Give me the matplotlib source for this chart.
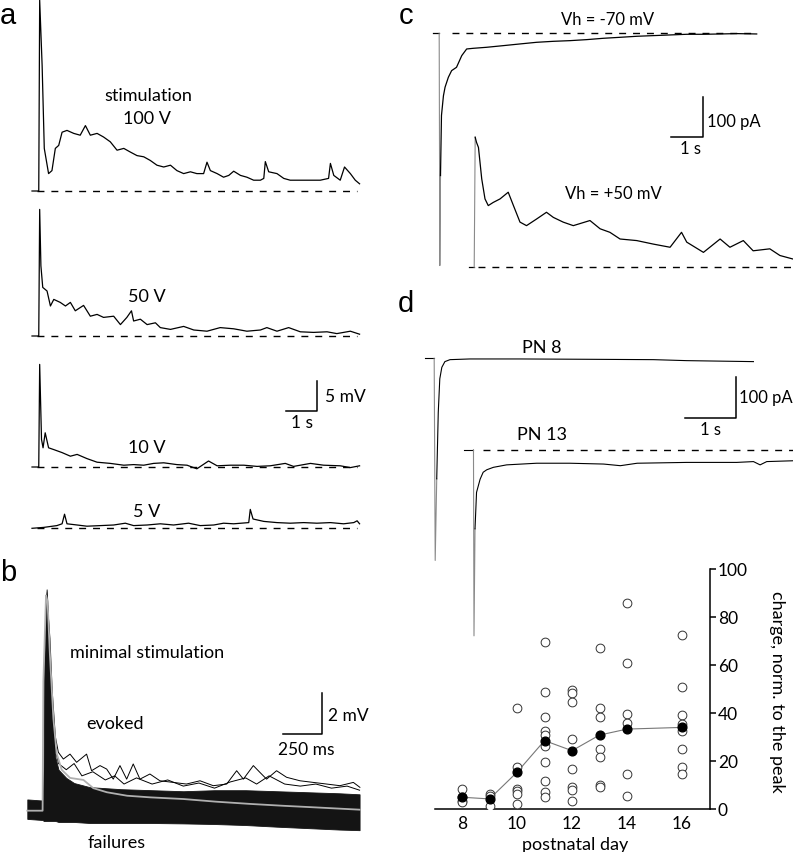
import matplotlib
matplotlib.use("Agg")
import matplotlib.pyplot as plt

W, H = 793, 853
plt.rcParams['font.family'] = ['Lato', 'DejaVu Sans']
plt.rcParams['lines.scale_dashes'] = False

# ===== PANEL A: responses to field stimulation (s, mV) =====
a100_t = [0, 0.22, 0.25, 0.33, 0.40, 0.54, 0.65, 0.76, 0.87, 0.98, 1.14, 1.36, 1.57, 1.74, 1.90,
          2.12, 2.33, 2.55, 2.77, 2.99, 3.20, 3.42, 3.64, 3.85, 4.07, 4.29, 4.51, 4.72, 4.94,
          5.16, 5.37, 5.59, 5.70, 5.81, 6.03, 6.24, 6.41, 6.57, 6.79, 7.00, 7.22, 7.44, 7.55,
          7.60, 7.71, 7.98, 8.20, 8.41, 8.74, 9.07, 9.39, 9.66, 9.72, 9.83, 10.04, 10.18,
          10.37, 10.53, 10.67]
a100_mv = [0, 0, 31.8, 20.9, 7.1, 2.9, 3.4, 7.1, 7.6, 9.8, 10.1, 9.6, 9.3, 10.9, 9.3,
           9.6, 9.0, 8.2, 6.8, 7.1, 6.5, 5.9, 5.7, 5.1, 4.3, 4.0, 4.3, 3.4, 2.9,
           3.2, 2.9, 2.9, 4.8, 3.4, 2.9, 2.3, 2.6, 3.3, 2.6, 2.3, 1.8, 1.8, 2.1,
           4.9, 3.2, 2.9, 2.1, 1.8, 1.8, 1.8, 1.8, 2.1, 4.6, 2.6, 1.8, 4.0,
           2.9, 1.8, 1.2]

a50_t = [0, 0.22, 0.25, 0.29, 0.35, 0.49, 0.60, 0.71, 0.92, 1.09, 1.25, 1.41, 1.68, 1.90,
         2.12, 2.33, 2.66, 2.88, 3.09, 3.24, 3.31, 3.53, 3.75, 4.02, 4.18, 4.51, 4.94, 5.27,
         5.70, 6.13, 6.57, 7.00, 7.44, 7.65, 7.98, 8.36, 8.74, 9.17, 9.61, 9.93, 10.37, 10.67]
a50_mv = [0, 0, 21.1, 11.7, 8.1, 7.5, 5.0, 6.1, 5.6, 5.0, 5.6, 4.2, 5.1, 3.3,
          3.6, 3.1, 3.3, 1.9, 3.1, 4.2, 2.5, 2.8, 1.9, 2.2, 1.4, 1.1, 1.6, 1.0,
          0.8, 1.4, 1.2, 0.8, 1.0, 1.4, 0.8, 1.4, 0.7, 0.6, 0.7, 0.4, 0.8, 0.3]

a10_t = [0, 0.22, 0.25, 0.31, 0.36, 0.43, 0.54, 0.71, 0.98, 1.25, 1.47, 1.79, 2.12, 2.55,
         2.99, 3.31, 3.64, 3.96, 4.29, 4.72, 5.05, 5.37, 5.75, 6.03, 6.46, 6.90, 7.33, 7.76,
         8.25, 8.52, 9.07, 9.50, 10.04, 10.37, 10.67]
a10_mv = [0, 0, 17.1, 4.6, 3.2, 5.7, 3.2, 2.9, 2.4, 1.8, 2.1, 1.4, 0.8, 0.6,
          0.3, 0.4, 0.3, 0.6, 0.7, 0.4, 0.3, -0.3, 1.0, 0.2, 0.3, 0.3, 0.1, 0.2,
          0.6, 0.1, 0.6, 0.3, 0.2, -0.1, 0.2]

a5_t = [0, 0.38, 0.81, 0.98, 1.06, 1.14, 1.47, 1.79, 2.23, 2.66, 3.04, 3.31, 3.75, 4.18,
        4.61, 5.10, 5.48, 5.92, 6.24, 6.57, 7.06, 7.11, 7.20, 7.55, 7.98, 8.41, 8.85, 9.28,
        9.72, 10.15, 10.48, 10.59, 10.67]
a5_mv = [-0.05, 0.1, 0.4, 0.7, 2.3, 0.7, 0.5, 0.3, 0.4, 0.5, 0.8, 0.4, 0.5, 0.7,
         0.5, 0.8, 0.4, 0.5, 0.8, 0.7, 0.9, 3.1, 1.5, 1.1, 0.9, 0.8, 0.9, 0.8,
         0.9, 0.7, 0.9, 1.2, 0.7]

a_labels = ["100 V", "50 V", "10 V", "5 V"]

# ===== PANEL B: minimal stimulation, overlaid sweeps (s, mV) =====
# dense part of the sweep cloud (envelope)
b_t = [0.0, 0.09, 0.1, 0.104, 0.108, 0.118, 0.124, 0.13, 0.14, 0.15, 0.16, 0.17, 0.18, 0.2,
       0.25, 0.3, 0.4, 0.5, 0.6, 0.8, 1.0, 1.2, 1.4, 1.6, 1.8, 2.0, 2.13]
b_upper = [0.55, 0.5, 0.55, 2.0, 7.0, 10.2, 10.8, 10.0, 8.0, 6.5, 5.0, 3.6, 2.6, 2.0,
           1.6, 1.35, 1.15, 1.1, 1.05, 1.0, 0.95, 1.0, 1.0, 0.95, 0.9, 0.85, 0.8]
b_lower = [-0.4, -0.45, -0.45, -0.5, -0.5, -0.5, -0.5, -0.5, -0.5, -0.5, -0.5, -0.5, -0.5, -0.55,
           -0.55, -0.55, -0.6, -0.6, -0.6, -0.6, -0.62, -0.65, -0.7, -0.78, -0.85, -0.92, -0.95]
# grey average of evoked responses
b_mean_t = [0, 0.098, 0.103, 0.12, 0.13, 0.145, 0.167, 0.188, 0.22, 0.274, 0.36, 0.423, 0.51,
            0.64, 0.79, 1.0, 1.21, 1.43, 1.64, 1.85, 2.13]
b_mean = [0, 0, 6.3, 10.5, 10.2, 7.6, 4.5, 2.8, 2.0, 1.6, 1.5, 1.1, 0.9,
          0.73, 0.65, 0.57, 0.44, 0.33, 0.24, 0.16, 0.05]
# two of the larger evoked sweeps
b_top_t = [0.13, 0.145, 0.16, 0.18, 0.199, 0.231, 0.274, 0.316, 0.38, 0.412, 0.466, 0.509, 0.551,
           0.594, 0.637, 0.679, 0.722, 0.786, 0.85, 0.936, 1.02, 1.107, 1.192, 1.278, 1.342,
           1.385, 1.449, 1.491, 1.534, 1.598, 1.662, 1.748, 1.833, 1.919, 2.004, 2.09, 2.132]
b_top = [10.0, 8.4, 5.8, 3.6, 2.85, 2.52, 2.76, 2.36, 2.76, 1.95, 2.2, 2.03, 1.54,
         2.2, 1.54, 2.28, 1.54, 1.79, 1.46, 1.38, 1.3, 1.46, 1.22, 1.3, 1.95,
         1.54, 2.2, 1.87, 1.54, 1.95, 1.63, 1.46, 1.38, 1.3, 1.22, 1.38, 1.14]
b_mid_t = [0.13, 0.145, 0.16, 0.18, 0.2, 0.25, 0.3, 0.35, 0.42, 0.5, 0.56, 0.62, 0.7, 0.8, 0.9,
           1.0, 1.1, 1.2, 1.3, 1.4, 1.47, 1.55, 1.65, 1.75, 1.85, 1.95, 2.05, 2.13]
b_mid = [9.6, 7.6, 4.8, 3.0, 2.3, 2.0, 2.3, 1.7, 1.9, 1.5, 1.7, 1.3, 1.6, 1.3, 1.5,
         1.2, 1.35, 1.1, 1.4, 1.6, 1.3, 1.7, 1.3, 1.2, 1.3, 1.1, 1.2, 1.0]

# ===== PANEL C: currents at two holding potentials (s, pA) =====
c70_t = [0, 0.18, 0.2, 0.22, 0.25, 0.31, 0.36, 0.46, 0.56, 0.71, 0.87, 1.02, 1.22, 1.63, 2.14,
         2.65, 3.16, 3.67, 4.18, 4.69, 5.2, 5.71, 6.22, 6.73, 7.24, 7.75, 8.26, 8.77, 9.28, 9.89]
c70_pa = [0, 0, -591, -362, -209, -159, -137, -112, -95, -86.5, -56.8, -39.9, -38.2, -35.6, -31.4,
          -27.1, -22.9, -20.4, -18.7, -16.1, -12.7, -10.2, -7.6, -5.9, -4.2, -2.5, -2.5, -1.7, -0.8, -1.7]
c50_t = [0, 0.15, 0.18, 0.22, 0.28, 0.38, 0.48, 0.58, 0.73, 0.94, 1.19, 1.35, 1.55, 1.75, 2.06,
         2.36, 2.57, 2.87, 3.18, 3.69, 4.0, 4.3, 4.61, 5.12, 5.63, 6.14, 6.49, 6.65, 7.16, 7.67,
         7.97, 8.38, 8.68, 9.19, 9.5, 9.9]
c50_pa = [0, 0, 331, 318, 305, 225, 174, 157, 165, 174, 191, 157, 115, 106, 123,
          140, 127, 115, 106, 119, 98, 89, 72, 68, 59, 51, 89, 64, 38, 72,
          51, 68, 42, 47, 30, 21]

# ===== PANEL D: currents at PN 8 and PN 13 (s, pA) =====
d8_t = [0, 0.18, 0.2, 0.23, 0.26, 0.29, 0.33, 0.39, 0.49, 0.88, 1.86, 3.17, 4.48, 5.13, 6.44]
d8_pa = [0, 0, -493, -294, -132, -50, -22, -8.1, -3.3, -1.6, -1.6, -2.4, -3.3, -5.7, -8.1]
d13_t = [0, 0.18, 0.19, 0.21, 0.24, 0.31, 0.37, 0.44, 0.57, 0.83, 1.42, 2.07, 2.73, 3.06,
         3.39, 4.36, 5.34, 5.67, 5.8, 5.93, 6.44]
d13_pa = [0, 0, -454, -193, -104, -72, -55, -49, -43, -37, -33, -33, -35, -39,
          -33, -31, -31, -29, -37, -29, -27]

# charge vs postnatal day
cell_day = [8, 8, 8, 8,
            9, 9, 9,
            10, 10, 10, 10, 10, 10,
            11, 11, 11, 11, 11, 11, 11, 11, 11, 11,
            12, 12, 12, 12, 12, 12, 12, 12,
            13, 13, 13, 13, 13, 13, 13,
            14, 14, 14, 14, 14, 14,
            16, 16, 16, 16, 16, 16, 16, 16]
cell_charge = [8.3, 4.9, 3.5, 2.8,
               6.2, 5.6, 1.4,
               41.9, 17.4, 8.3, 7.4, 6.2, 2.1,
               69.7, 48.9, 38.5, 32.4, 31.0, 26.4, 19.7, 11.8, 6.9, 4.9,
               49.6, 48.2, 44.7, 29.2, 16.7, 9.0, 8.1, 3.5,
               67.0, 42.0, 38.5, 25.0, 21.5, 10.1, 9.0,
               85.8, 60.7, 39.6, 35.7, 14.6, 5.6,
               72.5, 50.8, 39.0, 35.4, 32.6, 25.0, 17.4, 14.6]
mean_day = [8, 9, 10, 11, 12, 13, 14, 16]
mean_charge = [4.9, 4.2, 15.3, 28.5, 24.3, 30.8, 33.3, 34.0]


def axes_px(fig, x0, y0, x1, y1):
    return fig.add_axes([x0 / W, 1 - y1 / H, (x1 - x0) / W, (y1 - y0) / H])


def trace_axes(fig, box, origin, px_x, px_y):
    # box in figure pixels, origin = pixel where t=0 / baseline sits
    x0, y0, x1, y1 = box
    ox, oy = origin
    ax = axes_px(fig, x0, y0, x1, y1)
    ax.set_xlim((x0 - ox) / px_x, (x1 - ox) / px_x)
    ax.set_ylim((oy - y1) / px_y, (oy - y0) / px_y)
    ax.axis('off')
    return ax


def plot_trace(ax, t, v, grey=None, lw=0.9):
    if grey is None:
        ax.plot(t, v, color='black', lw=lw, clip_on=False)
        return
    k, m = grey
    ax.plot(t[:k + 1], v[:k + 1], color='black', lw=lw, clip_on=False)
    ax.plot(t[k:m + 1], v[k:m + 1], color='#8a8a8a', lw=0.8, clip_on=False)
    ax.plot(t[m:], v[m:], color='black', lw=lw, clip_on=False)


def dashed(ax, t0, t1, lw=1.0):
    ax.plot([t0, t1], [0, 0], color='black', lw=lw, dashes=(5, 5), clip_on=False)


def scale_bar(ax, x, y, dx, dy):
    ax.plot([x - dx, x, x], [y, y, y + dy], color='black', lw=1.1, clip_on=False)


def ftext(fig, x, y, s, **kw):
    kw.setdefault('ha', 'center')
    kw.setdefault('va', 'center')
    kw.setdefault('fontsize', 12.5)
    fig.text(x / W, 1 - y / H, s, **kw)


def panel_letter(fig, x, y, s):
    # x = left edge, y = baseline (pixels)
    ftext(fig, x, y, s, fontsize=21, family='Liberation Sans', ha='left', va='baseline')


fig = plt.figure(figsize=(W / 100, H / 100), dpi=100)

# ===== A =====
a_base_px = [192, 337, 468, 529]
a_traces = [(a100_t, a100_mv), (a50_t, a50_mv), (a10_t, a10_mv), (a5_t, a5_mv)]
for (t, v), base in zip(a_traces, a_base_px):
    ax = trace_axes(fig, (20, base - 200, 372, base + 15), (32, base), 30.7, 6.0)
    plot_trace(ax, t, v)
    dashed(ax, 0.15, 10.6)
    if base == 337:
        # 5 mV / 1 s bar, placed under the 50 V trace
        scale_bar(ax, (317 - 32) / 30.7, -(411.7 - base) / 6.0, 1.0, 5.0)
ftext(fig, 148, 96, "stimulation", fontsize=13)
for lab, y in zip(a_labels, [119, 297, 448, 512]):
    ftext(fig, 147, y, lab, fontsize=13)
ftext(fig, 325, 397, "5 mV", ha='left')
ftext(fig, 302, 423, "1 s")
panel_letter(fig, 0, 24, "a")

# ===== B =====
axb = trace_axes(fig, (20, 560, 372, 853), (27.3, 811.7), 156.0, 20.5)
axb.fill_between(b_t, b_lower, b_upper, color='#141414', lw=0.6)
axb.plot(b_top_t, b_top, color='black', lw=0.7)
axb.plot(b_mid_t, b_mid, color='black', lw=0.7)
axb.plot(b_mean_t, b_mean, color='#b0b0b0', lw=1.3)
scale_bar(axb, (321.7 - 27.3) / 156.0, (811.7 - 735) / 20.5, 0.25, 2.0)
ftext(fig, 147, 653, "minimal stimulation", fontsize=13)
ftext(fig, 115, 724, "evoked", fontsize=13)
ftext(fig, 117, 843, "failures", fontsize=13)
ftext(fig, 328, 716, "2 mV", ha='left')
ftext(fig, 306, 750, "250 ms")
panel_letter(fig, 0, 581, "b")

# ===== C =====
axc70 = trace_axes(fig, (425, 0, 793, 280), (433.3, 34.3), 32.7, 0.393)
plot_trace(axc70, c70_t, c70_pa, grey=(1, 3))
dashed(axc70, 0.56, 9.8)
scale_bar(axc70, (703.3 - 433.3) / 32.7, -(137.7 - 34.3) / 0.393, 1.0, 100)
axc50 = trace_axes(fig, (425, 0, 793, 280), (469.3, 268.3), 32.7, 0.393)
plot_trace(axc50, c50_t, c50_pa, grey=(1, 2))
dashed(axc50, 0.28, 9.9)
ftext(fig, 608, 20, "Vh = -70 mV", fontsize=12)
ftext(fig, 613, 194, "Vh = +50 mV", fontsize=12)
ftext(fig, 707, 122, "100 pA", ha='left', fontsize=12)
ftext(fig, 690, 149, "1 s", fontsize=12)
panel_letter(fig, 399, 24, "c")

# ===== D =====
axd8 = trace_axes(fig, (420, 290, 793, 650), (425, 359.3), 51.0, 0.41)
plot_trace(axd8, d8_t, d8_pa, grey=(1, 3), lw=0.8)
scale_bar(axd8, (736 - 425) / 51.0, -(419.3 - 359.3) / 0.41, 1.0, 100)
axd13 = trace_axes(fig, (420, 290, 793, 650), (464.3, 450.7), 51.0, 0.41)
plot_trace(axd13, d13_t, d13_pa, grey=(1, 3), lw=0.8)
dashed(axd13, 0.37, 6.44)
ftext(fig, 542, 348, "PN 8", fontsize=13)
ftext(fig, 542, 435, "PN 13", fontsize=13)
ftext(fig, 739, 398, "100 pA", ha='left', fontsize=12)
ftext(fig, 710, 430, "1 s", fontsize=12)
panel_letter(fig, 398, 312, "d")

# charge vs age
axs = axes_px(fig, 434.5, 570, 709.5, 810)
axs.patch.set_alpha(0)
axs.plot(mean_day, mean_charge, color='#777777', lw=0.8, zorder=2)
axs.plot(cell_day, cell_charge, 'o', ms=6.3, mfc='white', mec='#333333', mew=0.7,
         ls='none', zorder=3)
axs.plot(mean_day, mean_charge, 'o', ms=6.3, color='black', ls='none', zorder=4)
axs.set_xlim(7, 17)
axs.set_ylim(0, 100)
axs.set_xticks([8, 10, 12, 14, 16])
axs.set_yticks([0, 20, 40, 60, 80, 100])
axs.spines['left'].set_visible(False)
axs.spines['top'].set_visible(False)
axs.spines['right'].set_linewidth(1.1)
axs.spines['bottom'].set_linewidth(1.1)
axs.yaxis.tick_right()
axs.tick_params(axis='y', direction='out', length=4, width=1.1, labelsize=12.5, pad=2)
axs.tick_params(axis='x', length=0, labelsize=12.5, pad=4)
ftext(fig, 575, 845, "postnatal day", fontsize=13)
ftext(fig, 777, 692, "charge, norm. to the peak", rotation=270, fontsize=13)

fig.savefig("out.png", dpi=100)
